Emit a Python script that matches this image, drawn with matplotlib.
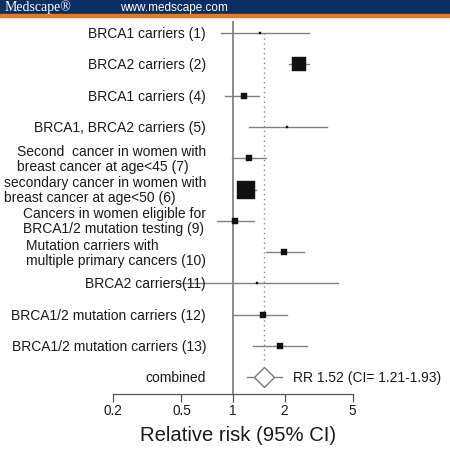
import numpy as np
import matplotlib
matplotlib.use("Agg")
import matplotlib.pyplot as plt
from matplotlib.patches import Rectangle

# ---------------- data ----------------
labels = [
    "BRCA1 carriers (1)",
    "BRCA2 carriers (2)",
    "BRCA1 carriers (4)",
    "BRCA1, BRCA2 carriers (5)",
    "Second  cancer in women with\nbreast cancer at age<45 (7)",
    "secondary cancer in women with\nbreast cancer at age<50 (6)",
    "Cancers in women eligible for\nBRCA1/2 mutation testing (9)",
    "Mutation carriers with\nmultiple primary cancers (10)",
    "BRCA2 carriers(11)",
    "BRCA1/2 mutation carriers (12)",
    "BRCA1/2 mutation carriers (13)",
]
rr = [1.44, 2.44, 1.155, 2.08, 1.245, 1.19, 1.03, 1.99, 1.39, 1.50, 1.88]
ci_low = [0.85, 2.12, 0.90, 1.235, 0.99, 1.07, 0.81, 1.565, 0.48, 1.00, 1.30]
ci_high = [2.78, 2.78, 1.41, 3.52, 1.55, 1.36, 1.33, 2.61, 4.09, 2.08, 2.72]
weights = [1.3, 28.7, 5.3, 1.3, 5.3, 42.3, 3.7, 3.7, 1.3, 3.7, 3.7]  # % study weight

combined_label = "combined"
combined_rr = 1.52
combined_low = 1.21
combined_high = 1.93
combined_text = "RR 1.52 (CI= 1.21-1.93)"

tick_values = [0.2, 0.5, 1, 2, 5]
tick_labels = ["0.2", "0.5", "1", "2", "5"]
xlabel = "Relative risk (95% CI)"

# ---------------- figure ----------------
W, H = 450, 452
fig = plt.figure(figsize=(W / 100, H / 100), dpi=100)
ax = fig.add_axes([0, 0, 1, 1])
ax.set_facecolor("white")

# x: log scale, pixel x = 233 + 171.2*log10(v)
x0_px, dec_px = 233.0, 171.2
ax.set_xscale("log")
ax.set_xlim(10 ** (-x0_px / dec_px), 10 ** ((W - x0_px) / dec_px))
# y: row units, pixel y = 34 + 31.3*row
y0_px, row_px = 34.0, 31.3
ax.set_ylim((H - y0_px) / row_px, -y0_px / row_px)

n = len(labels)
rows = np.arange(n)
comb_row = n

line_col = "#808080"
text_col = "#1a1a1a"
font = "Liberation Sans"
fs = 10

# reference lines
axis_row = (395 - y0_px) / row_px
ax.plot([1, 1], [(23 - y0_px) / row_px, axis_row], color="#8a8a8a", lw=1.4, zorder=1)
ax.plot([combined_rr, combined_rr], [0, comb_row - 0.5], color="#8a8a8a",
        lw=1.0, ls=(0, (1, 2.5)), zorder=1)

# study rows
px_per_pt = 100 / 72
for i in range(n):
    ax.plot([ci_low[i], ci_high[i]], [rows[i], rows[i]], color=line_col, lw=1.0, zorder=2)
    side_px = 2.62 * np.sqrt(weights[i])
    ax.plot(rr[i], rows[i], marker="s", ms=side_px / px_per_pt, color="#111111",
            mec="#111111", mew=0.3, zorder=3)
    ax.text(10 ** ((206 - x0_px) / dec_px), rows[i], labels[i], ha="right",
            va="center", multialignment="left", fontsize=fs, family=font,
            color=text_col, linespacing=1.1)

# combined
ax.plot([combined_low, combined_high], [comb_row, comb_row], color=line_col, lw=1.0, zorder=2)
ax.plot(combined_rr, comb_row, marker="D", ms=10.4, mfc="white", mec="#7a7a7a",
        mew=1.0, zorder=3)
ax.text(10 ** ((206 - x0_px) / dec_px), comb_row, combined_label, ha="right",
        va="center", fontsize=fs, family=font, color=text_col)
ax.text(10 ** ((293 - x0_px) / dec_px), comb_row, combined_text, ha="left",
        va="center", fontsize=fs, family=font, color=text_col)

# bottom axis
for s in ["top", "left", "right"]:
    ax.spines[s].set_visible(False)
ax.spines["bottom"].set_position(("data", axis_row))
ax.spines["bottom"].set_bounds(tick_values[0], tick_values[-1])
ax.spines["bottom"].set_color("#555555")
ax.spines["bottom"].set_linewidth(0.9)
ax.set_xticks(tick_values)
ax.set_xticklabels(tick_labels)
ax.xaxis.set_minor_locator(matplotlib.ticker.NullLocator())
ax.tick_params(axis="x", direction="out", length=6, width=0.9, color="#555555",
               pad=0.5, labelsize=9.8, labelcolor=text_col)
for t in ax.get_xticklabels():
    t.set_family(font)
ax.set_yticks([])
ax.set_xlabel(xlabel, fontsize=14.6, family=font, color=text_col)
ax.xaxis.set_label_coords(238.3 / W, 1 - 436 / H)
ax.xaxis.label.set_va("center")

# header banner
fig.patches.append(Rectangle((0, 1 - 15 / H), 1, 15 / H, transform=fig.transFigure,
                             color="#0b2f63", zorder=0))
fig.patches.append(Rectangle((0, 1 - 17.5 / H), 1, 2.5 / H, transform=fig.transFigure,
                             color="#e87a1e", zorder=0))
fig.text(5 / W, 1 - 7.5 / H, "Medscape\u00ae", color="white", fontsize=10,
         family="Liberation Serif", ha="left", va="center")
fig.text(120 / W, 1 - 7.5 / H, "www.medscape.com", color="white", fontsize=8.5,
         family=font, ha="left", va="center")

fig.savefig("out.png", dpi=100)
